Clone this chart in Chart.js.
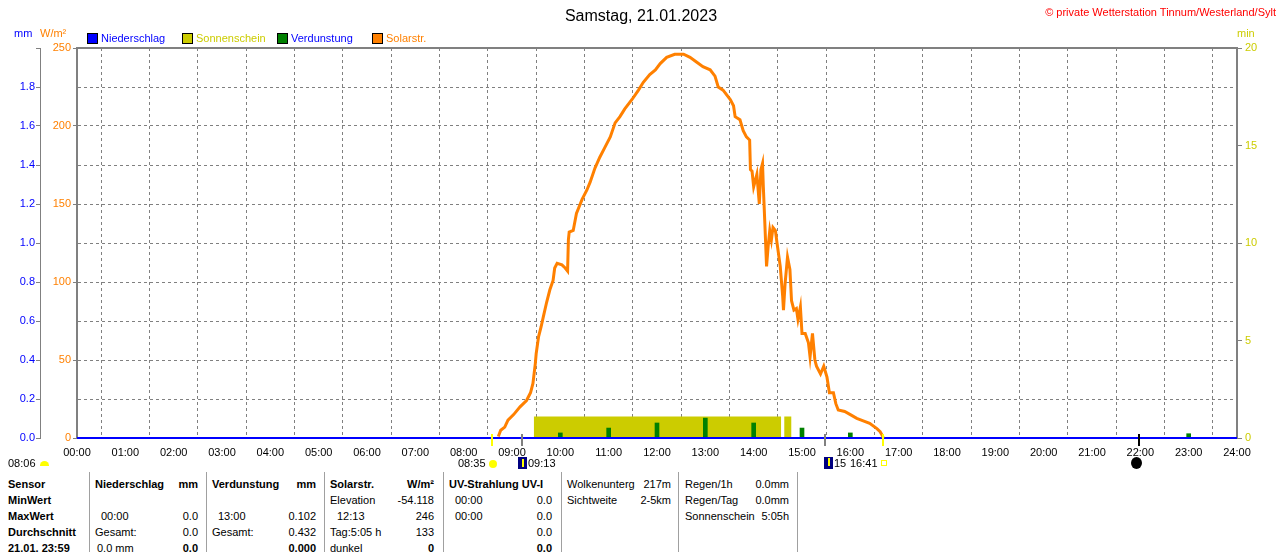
<!DOCTYPE html>
<html><head><meta charset="utf-8">
<script src="https://cdn.jsdelivr.net/npm/chart.js@4"></script>
<style>
html,body{margin:0;padding:0;background:#fff;width:1280px;height:552px;overflow:hidden;font-family:"Liberation Sans",Arial,sans-serif;font-size:11px;color:#000;}
#wrap{position:absolute;left:0;top:0;width:1280px;height:470px;}
.a{position:absolute;white-space:nowrap;line-height:13px;}
.b{font-weight:bold;}
.sq{position:absolute;width:9px;height:9px;border:1px solid #000;top:33px;}
.vl{position:absolute;top:472px;height:80px;width:1px;background:#a0a0a0;}
</style></head>
<body>
<div id="wrap"><canvas id="c"></canvas></div>

<div class="a" style="left:0;width:1282px;text-align:center;top:7px;font-size:16px;line-height:18px;">Samstag, 21.01.2023</div>
<div class="a" style="right:4px;top:6px;color:#FF0000;">© private Wetterstation Tinnum/Westerland/Sylt</div>

<div class="a" style="left:14px;top:27px;color:#0000FF;">mm</div>
<div class="a" style="left:40px;top:27px;color:#FF8000;">W/m²</div>
<div class="a" style="left:1237px;top:27px;color:#CCCC00;">min</div>

<div class="sq" style="left:87px;background:#0000FF;"></div>
<div class="a" style="left:101px;top:32px;color:#0000FF;">Niederschlag</div>
<div class="sq" style="left:182px;background:#CCCC00;"></div>
<div class="a" style="left:196px;top:32px;color:#CCCC00;">Sonnenschein</div>
<div class="sq" style="left:277px;background:#008000;"></div>
<div class="a" style="left:291px;top:32px;color:#0000FF;">Verdunstung</div>
<div class="sq" style="left:372px;background:#FF8000;"></div>
<div class="a" style="left:386px;top:32px;color:#FF8000;">Solarstr.</div>

<!-- sun / moon markers -->
<div class="a" style="left:8px;top:457px;">08:06</div>
<div style="position:absolute;left:40px;top:461px;width:9px;height:5px;border-radius:5px 5px 0 0;background:#FFFF00;"></div>
<div class="a" style="left:458px;top:457px;">08:35</div>
<div style="position:absolute;left:489px;top:460px;width:8px;height:8px;border-radius:50%;background:#FFFF00;"></div>
<div style="position:absolute;left:518px;top:457px;width:9px;height:12px;background:#000080;"><div style="position:absolute;left:4px;top:2px;width:2px;height:8px;background:#FFFF00;"></div></div>
<div class="a" style="left:528px;top:457px;">09:13</div>
<div style="position:absolute;left:824px;top:457px;width:9px;height:12px;background:#000080;"><div style="position:absolute;left:4px;top:1px;width:2px;height:8px;background:#FFFF00;"></div></div>
<div class="a" style="left:834px;top:457px;">15</div>
<div class="a" style="left:848px;top:457px;background:#fff;padding-left:2px;">16:41</div>
<div style="position:absolute;left:881px;top:460px;width:4px;height:4px;border:1px solid #FFFF00;"></div>
<div style="position:absolute;left:1131px;top:457px;width:11px;height:12px;border-radius:50%;background:#000;"></div>

<!-- table -->
<div class="vl" style="left:89px"></div>
<div class="vl" style="left:206px"></div>
<div class="vl" style="left:324px"></div>
<div class="vl" style="left:443px"></div>
<div class="vl" style="left:561px"></div>
<div class="vl" style="left:678px"></div>
<div class="vl" style="left:797px"></div>

<div class="a b" style="left:8px;top:478px;">Sensor</div>
<div class="a b" style="left:8px;top:494px;">MinWert</div>
<div class="a b" style="left:8px;top:510px;">MaxWert</div>
<div class="a b" style="left:8px;top:526px;">Durchschnitt</div>
<div class="a b" style="left:8px;top:542px;">21.01. 23:59</div>

<div class="a b" style="left:95px;top:478px;">Niederschlag</div>
<div class="a b" style="right:1082px;top:478px;">mm</div>
<div class="a" style="left:101px;top:510px;">00:00</div>
<div class="a" style="right:1082px;top:510px;">0.0</div>
<div class="a" style="left:95px;top:526px;">Gesamt:</div>
<div class="a" style="right:1082px;top:526px;">0.0</div>
<div class="a" style="left:97px;top:542px;">0.0 mm</div>
<div class="a b" style="right:1082px;top:542px;">0.0</div>

<div class="a b" style="left:212px;top:478px;">Verdunstung</div>
<div class="a b" style="right:964px;top:478px;">mm</div>
<div class="a" style="left:218px;top:510px;">13:00</div>
<div class="a" style="right:964px;top:510px;">0.102</div>
<div class="a" style="left:212px;top:526px;">Gesamt:</div>
<div class="a" style="right:964px;top:526px;">0.432</div>
<div class="a b" style="right:964px;top:542px;">0.000</div>

<div class="a b" style="left:330px;top:478px;">Solarstr.</div>
<div class="a b" style="right:846px;top:478px;">W/m²</div>
<div class="a" style="left:330px;top:494px;">Elevation</div>
<div class="a" style="right:846px;top:494px;">-54.118</div>
<div class="a" style="left:337px;top:510px;">12:13</div>
<div class="a" style="right:846px;top:510px;">246</div>
<div class="a" style="left:330px;top:526px;">Tag:5:05 h</div>
<div class="a" style="right:846px;top:526px;">133</div>
<div class="a" style="left:330px;top:542px;">dunkel</div>
<div class="a b" style="right:846px;top:542px;">0</div>

<div class="a b" style="left:449px;top:478px;">UV-Strahlung UV-I</div>
<div class="a" style="left:455px;top:494px;">00:00</div>
<div class="a" style="right:728px;top:494px;">0.0</div>
<div class="a" style="left:455px;top:510px;">00:00</div>
<div class="a" style="right:728px;top:510px;">0.0</div>
<div class="a" style="right:728px;top:526px;">0.0</div>
<div class="a b" style="right:728px;top:542px;">0.0</div>

<div class="a" style="left:567px;top:478px;">Wolkenunterg</div>
<div class="a" style="right:609px;top:478px;">217m</div>
<div class="a" style="left:567px;top:494px;">Sichtweite</div>
<div class="a" style="right:609px;top:494px;">2-5km</div>

<div class="a" style="left:685px;top:478px;">Regen/1h</div>
<div class="a" style="right:491px;top:478px;">0.0mm</div>
<div class="a" style="left:685px;top:494px;">Regen/Tag</div>
<div class="a" style="right:491px;top:494px;">0.0mm</div>
<div class="a" style="left:685px;top:510px;">Sonnenschein</div>
<div class="a" style="right:491px;top:510px;">5:05h</div>

<script>
// ---- data ----
const xTickLabels = ["00:00","01:00","02:00","03:00","04:00","05:00","06:00","07:00","08:00","09:00","10:00","11:00","12:00","13:00","14:00","15:00","16:00","17:00","18:00","19:00","20:00","21:00","22:00","23:00","24:00"];

const solarTimes = ["08:43","08:46","08:51","08:55","09:02","09:10","09:18","09:23","09:26","09:29","09:30","09:33","09:36","09:39","09:43","09:47","09:51","09:53","09:56","10:02","10:06","10:09","10:10","10:11","10:16","10:20","10:27","10:33","10:37","10:43","10:49","10:55","11:02","11:08","11:14","11:20","11:29","11:37","11:43","11:51","11:58","12:04","12:12","12:22","12:33","12:41","12:49","12:57","13:06","13:12","13:16","13:22","13:31","13:35","13:37","13:43","13:47","13:51","13:55","13:56","13:58","14:00","14:04","14:07","14:09","14:11","14:12","14:14","14:16","14:18","14:20","14:22","14:24","14:27","14:29","14:33","14:36","14:37","14:39","14:42","14:45","14:47","14:50","14:53","14:55","14:58","15:00","15:04","15:08","15:10","15:13","15:16","15:18","15:23","15:27","15:31","15:34","15:39","15:42","15:45","15:53","16:00","16:08","16:16","16:24","16:33","16:37","16:40","16:41"];
const solarValues = [1,5,7,11.5,15,20,24,29,35,48,54,65,71,78,87,95,101,109,112,111,109,107,127,132,133,144,153,159,164,173,180,186,193,202,206,211,217,223,228,233,236,240,244,246,246,244,241,238,236,232,225,223,217,213,206,204,197,193,191,172,171,161,169,150,172,176,161,136,110,123,133,127,135,133,125,110,91,82,99,116,108,88,82,83,76,84,67,67,61,52,67,50,46,41,46,39,29,29,22,18,17,15,12.6,11,9.4,6,4,1.3,0];

const rainTimes = ["00:00","24:00"];
const rainValues = [0,0];

const evapTimes = ["10:00","11:00","12:00","13:00","14:00","15:00","16:00","23:00"];
const evapValues = [0.026,0.051,0.077,0.102,0.077,0.051,0.026,0.022];

const sunStart = ["09:27","14:38"];
const sunEnd   = ["14:34","14:47"];
const sunMinutes = [1.1,1.1];

const markerTimes = ["08:35","09:13","15:28","16:41","21:58"];
const markerKinds = ["sun","moon","moon","sun","newmoon"];

// ---- helpers ----
const toH = s => { const p = s.split(':'); return +p[0] + (+p[1]) / 60; };
const pts = (t, v) => t.map((s, i) => ({x: toH(s), y: v[i]}));
const sunPts = [];
sunStart.forEach((s, i) => {
  sunPts.push({x: toH(s), y: 0}, {x: toH(s), y: sunMinutes[i]}, {x: toH(sunEnd[i]), y: sunMinutes[i]}, {x: toH(sunEnd[i]), y: 0});
});

Chart.defaults.font.family = '"Liberation Sans", Arial, sans-serif';
Chart.defaults.font.size = 11;

const kindColor = {sun: '#FFFF00', moon: '#808080', newmoon: '#000000'};
const framePlugin = {
  id: 'frame',
  afterDraw(chart) {
    const {ctx, chartArea: a, scales} = chart;
    ctx.save();
    ctx.strokeStyle = '#808080';
    ctx.lineWidth = 2;
    ctx.beginPath();
    ctx.moveTo(a.left - 1, a.top);
    ctx.lineTo(a.right + 1, a.top);
    ctx.stroke();
    markerTimes.forEach((t, i) => {
      const x = Math.round(scales.x.getPixelForValue(toH(t)));
      ctx.strokeStyle = kindColor[markerKinds[i]];
      ctx.lineWidth = 2;
      ctx.beginPath();
      ctx.moveTo(x, a.bottom - 4);
      ctx.lineTo(x, a.bottom + 8);
      ctx.stroke();
    });
    ctx.restore();
  }
};

new Chart(document.getElementById('c'), {
  type: 'line',
  data: {
    datasets: [
      {label: 'Solarstr.', data: pts(solarTimes, solarValues), yAxisID: 'yW', borderColor: '#FF8000', borderWidth: 3, pointRadius: 0, tension: 0, order: 0},
      {label: 'Niederschlag', data: pts(rainTimes, rainValues), yAxisID: 'yMm', borderColor: '#0000FF', borderWidth: 2, pointRadius: 0, clip: false, order: 1},
      {type: 'bar', label: 'Verdunstung', data: pts(evapTimes, evapValues), yAxisID: 'yMm', backgroundColor: '#008000', barThickness: 4, order: 2},
      {label: 'Sonnenschein', data: sunPts, yAxisID: 'yMin', borderWidth: 0, borderColor: 'rgba(0,0,0,0)', backgroundColor: '#CCCC00', fill: 'origin', pointRadius: 0, tension: 0, order: 3}
    ]
  },
  options: {
    responsive: true,
    maintainAspectRatio: false,
    animation: false,
    devicePixelRatio: 1,
    layout: {padding: {top: 48, left: 0, right: 0, bottom: 0}},
    plugins: {legend: {display: false}, tooltip: {enabled: false}},
    scales: {
      x: {
        type: 'linear', min: 0, max: 24, position: 'bottom', offset: false,
        ticks: {stepSize: 1, autoSkip: false, maxRotation: 0, minRotation: 0, color: '#000', padding: 8,
                callback: v => xTickLabels[v]},
        grid: {color: '#808080', lineWidth: 1, drawTicks: false},
        border: {display: false, dash: [3, 3]},
        afterFit: s => { s.height = 32; }
      },
      yMm: {
        position: 'left', min: 0, max: 2, weight: 1,
        ticks: {stepSize: 0.2, color: '#0000FF', padding: 1,
                callback: v => v >= 1.99 ? '' : v.toFixed(1)},
        grid: {color: '#808080', lineWidth: 1, tickLength: 4, tickColor: '#808080'},
        border: {display: true, color: '#808080', width: 1, dash: [3, 3]},
        afterFit: s => { s.width = 40; }
      },
      yW: {
        position: 'left', min: 0, max: 250, weight: 0,
        ticks: {stepSize: 50, color: '#FF8000', padding: 2},
        grid: {drawOnChartArea: false, tickLength: 4, color: '#808080'},
        border: {display: true, color: '#808080', width: 2},
        afterFit: s => { s.width = 37; }
      },
      yMin: {
        position: 'right', min: 0, max: 20,
        ticks: {stepSize: 5, color: '#CCCC00', padding: 3},
        grid: {drawOnChartArea: false, tickLength: 5, color: '#808080'},
        border: {display: true, color: '#808080', width: 2},
        afterFit: s => { s.width = 43; }
      }
    }
  },
  plugins: [framePlugin]
});
</script>
</body></html>
